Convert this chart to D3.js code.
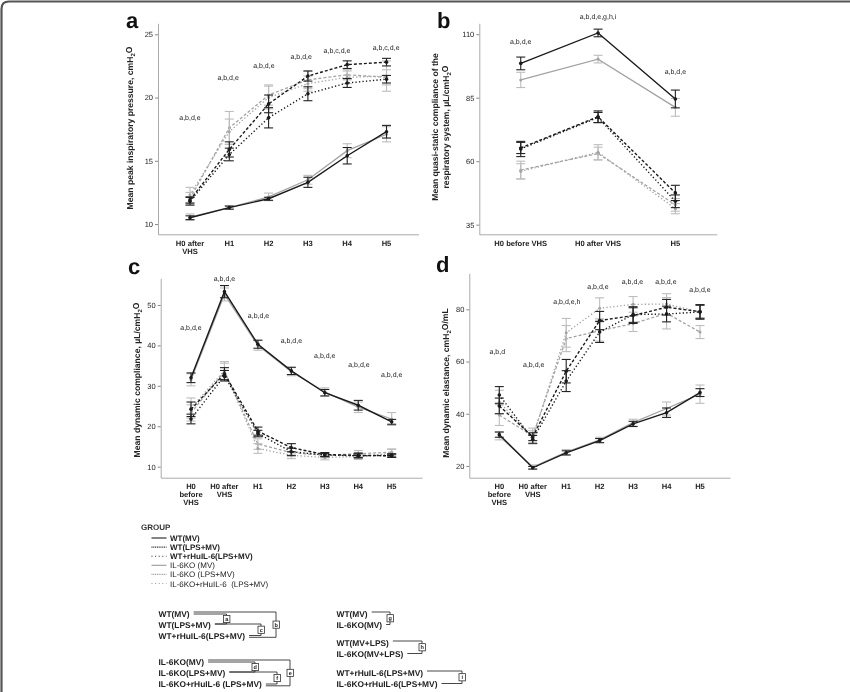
<!DOCTYPE html>
<html>
<head>
<meta charset="utf-8">
<script src="https://cdn.jsdelivr.net/npm/d3@7"></script>
<style>
body { margin: 0; background: #fff; }
svg { display: block; font-family: 'Liberation Sans', Arial, sans-serif; will-change: transform; text-rendering: geometricPrecision; }
</style>
</head>
<body>
<svg width="850" height="692"></svg>
<script>
'use strict'

// groups, in legend order
const groups = ['WT(MV)', 'WT(LPS+MV)', 'WT+rHuIL-6(LPS+MV)', 'IL-6KO (MV)', 'IL-6KO (LPS+MV)', 'IL-6KO+rHuIL-6  (LPS+MV)']

// panel a: peak inspiratory pressure
const catsA = ['H0 after\nVHS', 'H1', 'H2', 'H3', 'H4', 'H5']
const meanA = [
    [10.5, 11.3, 12.0, 13.3, 15.4, 17.3],
    [11.9, 15.9, 19.5, 21.7, 22.6, 22.8],
    [11.8, 15.5, 18.4, 20.3, 21.15, 21.45],
    [10.55, 11.3, 12.15, 13.5, 15.8, 17.1],
    [12.0, 17.6, 20.2, 21.4, 21.8, 21.6],
    [12.3, 17.3, 20.0, 21.1, 21.6, 21.7]
]
const errA = [
    [0.15, 0.12, 0.12, 0.4, 0.65, 0.5],
    [0.25, 0.6, 0.7, 0.4, 0.3, 0.3],
    [0.3, 0.5, 0.8, 0.55, 0.35, 0.3],
    [0.25, 0.15, 0.3, 0.35, 0.55, 0.6],
    [0.5, 1.3, 0.8, 0.7, 0.4, 0.6],
    [0.6, 1.0, 0.9, 0.6, 0.5, 1.2]
]
const notesA = ['a,b,d,e', 'a,b,d,e', 'a,b,d,e', 'a,b,d,e', 'a,b,c,d,e', 'a,b,c,d,e']
const noteAtA = [[0, 18.45], [0.97, 21.55], [1.88, 22.55], [2.83, 23.25], [3.74, 23.7], [4.99, 23.95]]
const ticksA = [10, 15, 20, 25]

// panel b: quasi-static compliance
const catsB = ['H0 before VHS', 'H0 after VHS', 'H5']
const meanB = [
    [98.5, 110.5, 84.5],
    [65.2, 77.5, 47.5],
    [64.8, 77.2, 44.2],
    [92.0, 100.2, 81.2],
    [56.5, 63.0, 42.8],
    [56.0, 63.5, 41.3]
]
const errB = [
    [2.5, 1.5, 3.5],
    [2.2, 2.3, 3.0],
    [3.0, 2.0, 2.5],
    [3.0, 1.5, 3.5],
    [3.5, 2.5, 2.5],
    [3.0, 3.0, 2.0]
]
const notesB = ['a,b,d,e', 'a,b,d,e,g,h,i', 'a,b,d,e']
const noteAtB = [[0, 107.1], [1, 116.9], [2, 95.3]]
const ticksB = [35, 60, 85, 110]

// panel c: dynamic compliance
const catsCD = ['H0\nbefore\nVHS', 'H0 after\nVHS', 'H1', 'H2', 'H3', 'H4', 'H5']
const meanC = [
    [32.0, 53.3, 40.3, 33.7, 28.3, 25.2, 21.1],
    [24.2, 33.0, 18.8, 14.7, 13.0, 12.8, 12.7],
    [21.8, 32.5, 18.2, 13.7, 12.9, 12.7, 12.8],
    [31.5, 52.6, 40.0, 33.5, 28.5, 24.7, 21.8],
    [23.3, 33.6, 15.6, 13.5, 12.8, 13.2, 13.6],
    [24.5, 33.8, 14.5, 12.8, 12.3, 12.5, 13.3]
]
const errC = [
    [1.2, 1.5, 1.0, 0.9, 0.8, 1.2, 0.6],
    [1.8, 1.5, 1.0, 1.0, 0.5, 0.6, 0.4],
    [1.2, 1.3, 0.8, 0.9, 0.4, 0.5, 0.4],
    [1.5, 1.6, 1.2, 1.0, 1.0, 1.3, 1.6],
    [2.0, 2.0, 1.3, 1.0, 0.6, 0.8, 0.8],
    [2.5, 2.2, 1.2, 0.8, 0.6, 0.7, 1.0]
]
const notesC = ['a,b,d,e', 'a,b,d,e', 'a,b,d,e', 'a,b,d,e', 'a,b,d,e', 'a,b,d,e', 'a,b,d,e']
const noteAtC = [[0, 44.5], [1, 56.6], [2.02, 47.35], [3, 41.3], [4, 37.6], [5.02, 35.2], [6, 32.9]]
const ticksC = [10, 20, 30, 40, 50]

// panel d: dynamic elastance
const meanD = [
    [32.0, 19.3, 25.0, 29.7, 36.1, 40.4, 48.1],
    [43.0, 31.2, 56.3, 75.7, 77.6, 80.8, 79.1],
    [47.2, 30.2, 52.5, 71.3, 78.0, 78.2, 79.0],
    [31.5, 19.6, 25.3, 30.0, 36.6, 42.0, 47.5],
    [39.5, 31.5, 68.8, 71.8, 74.5, 78.5, 71.3],
    [44.5, 31.0, 71.0, 80.4, 81.9, 82.0, 79.0]
]
const errD = [
    [1.0, 0.5, 0.8, 0.8, 1.0, 1.8, 1.5],
    [3.0, 1.5, 4.5, 3.5, 3.0, 3.0, 2.5],
    [3.2, 1.5, 4.0, 4.0, 3.0, 3.0, 2.8],
    [1.5, 0.8, 1.0, 1.0, 1.3, 2.5, 3.5],
    [4.0, 3.0, 5.0, 4.0, 3.0, 6.0, 2.5],
    [4.5, 2.5, 5.5, 4.0, 3.0, 4.0, 2.5]
]
const notesD = ['a,b,d', 'a,b,d,e', 'a,b,d,e,h', 'a,b,d,e', 'a,b,d,e', 'a,b,d,e', 'a,b,d,e']
const noteAtD = [[-0.06, 63.8], [1.03, 58.7], [2.02, 82.9], [2.95, 88.6], [3.98, 90.6], [4.98, 90.6], [6, 87.4]]
const ticksD = [20, 40, 60, 80]

// comparison brackets
const bracketLeft = [['WT(MV)', 'WT(LPS+MV)', 'WT+rHuIL-6(LPS+MV)'], ['IL-6KO(MV)', 'IL-6KO(LPS+MV)', 'IL-6KO+rHuIL-6 (LPS+MV)']]
const bracketRight = [['WT(MV)', 'IL-6KO(MV)'], ['WT(MV+LPS)', 'IL-6KO(MV+LPS)'], ['WT+rHuIL-6(LPS+MV)', 'IL-6KO+rHuIL-6(LPS+MV)']]

const svg = d3.select('svg')
const black = '#1a1a1a'
const gray = '#a3a3a3'
const lineColor = [black, black, black, gray, gray, gray]
const barColor = ['#222', '#222', '#222', '#bdbdbd', '#bdbdbd', '#bdbdbd']
const lineDash = [null, '3,2', '1.3,2.2', null, '3,2', '1.3,2.2']
const drawOrder = [3, 4, 5, 0, 1, 2]

// frame of the figure
svg.append('path')
    .attr('d', 'M1.5,692 V9 Q1.5,1.5 9,1.5 H850')
    .attr('fill', 'none')
    .attr('stroke', '#555')
    .attr('stroke-width', 2.2)

function subLabel(sel, parts) {
    parts.forEach(p => {
        if (p.sub) sel.append('tspan').attr('font-size', '0.7em').attr('dy', '0.3em').text(p.t)
        else sel.append('tspan').attr('dy', p.up ? '-0.3em' : null).text(p.t)
    })
}

function panel(cfg) {
    const n = cfg.cats.length
    const x = d3.scaleLinear().domain([-cfg.pad, n - 1 + cfg.pad]).range([cfg.x0, cfg.x1])
    const y = d3.scaleLinear().domain(cfg.yDom).range([cfg.yB, cfg.yT])
    const g = svg.append('g')

    const yAxis = g.append('g')
        .attr('transform', `translate(${cfg.x0},0)`)
        .call(d3.axisLeft(y).tickValues(cfg.ticks).tickSize(3).tickSizeOuter(0).tickPadding(2))
    yAxis.select('.domain').attr('stroke', '#aaa')
    yAxis.selectAll('.tick line').attr('stroke', '#888')
    yAxis.selectAll('.tick text')
        .attr('font-family', 'Liberation Sans, Arial, sans-serif')
        .attr('font-size', 7.5)
        .attr('fill', '#222')

    const xAxis = g.append('g')
        .attr('transform', `translate(0,${cfg.yB})`)
        .call(d3.axisBottom(x).tickValues([]).tickSizeOuter(0))
    xAxis.select('.domain').attr('stroke', '#aaa')

    cfg.cats.forEach((c, i) => {
        const t = g.append('text')
            .attr('x', x(i))
            .attr('y', cfg.yB + 11.5)
            .attr('text-anchor', 'middle')
            .attr('font-size', 7.6)
            .attr('font-weight', 'bold')
            .attr('fill', '#222')
        c.split('\n').forEach((line, k) => {
            t.append('tspan').attr('x', x(i)).attr('dy', k ? 7.8 : 0).text(line)
        })
    })

    // panel letter
    g.append('text')
        .attr('x', cfg.letterX)
        .attr('y', cfg.letterY)
        .attr('font-size', 22)
        .attr('font-weight', 'bold')
        .attr('fill', '#111')
        .text(cfg.letter)

    // axis title
    cfg.title.forEach((parts, k) => {
        const t = g.append('text')
            .attr('transform', `translate(${cfg.titleX + k * 11},${cfg.titleY}) rotate(-90)`)
            .attr('text-anchor', 'middle')
            .attr('font-size', 8.6)
            .attr('font-weight', 'bold')
            .attr('fill', '#222')
        subLabel(t, parts)
    })

    drawOrder.forEach(s => {
        const pts = cfg.mean[s].map((v, i) => [x(i), y(v)])
        g.append('path')
            .attr('d', d3.line()(pts))
            .attr('fill', 'none')
            .attr('stroke', lineColor[s])
            .attr('stroke-width', s < 3 ? 1.4 : 1.3)
            .attr('stroke-dasharray', lineDash[s])

        const bars = g.append('g')
            .attr('stroke', barColor[s])
            .attr('stroke-width', 1.1)
        cfg.mean[s].forEach((v, i) => {
            const e = cfg.err[s][i]
            const cx = x(i)
            bars.append('line').attr('x1', cx).attr('x2', cx).attr('y1', y(v - e)).attr('y2', y(v + e))
            bars.append('line').attr('x1', cx - 4.5).attr('x2', cx + 4.5).attr('y1', y(v - e)).attr('y2', y(v - e))
            bars.append('line').attr('x1', cx - 4.5).attr('x2', cx + 4.5).attr('y1', y(v + e)).attr('y2', y(v + e))
        })

        g.append('g')
            .selectAll('circle')
            .data(cfg.mean[s])
            .enter()
            .append('circle')
            .attr('cx', (d, i) => x(i))
            .attr('cy', d => y(d))
            .attr('r', s < 3 ? 1.8 : 1.5)
            .attr('fill', lineColor[s])
    })

    cfg.notes.forEach((t, i) => {
        g.append('text')
            .attr('x', x(cfg.noteAt[i][0]))
            .attr('y', y(cfg.noteAt[i][1]))
            .attr('dy', '0.35em')
            .attr('text-anchor', 'middle')
            .attr('font-size', 7)
            .attr('fill', '#222')
            .text(t)
    })
}

const cmH2O = [{ t: 'cmH' }, { t: '2', sub: true }, { t: 'O', up: true }]

panel({
    cats: catsA, mean: meanA, err: errA, notes: notesA, noteAt: noteAtA, ticks: ticksA,
    x0: 158, x1: 418.5, pad: 0.814, yDom: [9.19, 25.87], yB: 234.3, yT: 23.3,
    letter: 'a', letterX: 126, letterY: 28,
    title: [[{ t: 'Mean peak inspiratory pressure, ' }, ...cmH2O]], titleX: 133, titleY: 128
})

panel({
    cats: catsB, mean: meanB, err: errB, notes: notesB, noteAt: noteAtB, ticks: ticksB,
    x0: 479.3, x1: 716.8, pad: 0.536, yDom: [31.2, 114.3], yB: 234.3, yT: 23.3,
    letter: 'b', letterX: 437, letterY: 28,
    title: [[{ t: 'Mean quasi-static compliance of the' }], [{ t: 'respiratory system, µL/' }, ...cmH2O]],
    titleX: 438, titleY: 127
})

panel({
    cats: catsCD, mean: meanC, err: errC, notes: notesC, noteAt: noteAtC, ticks: ticksC,
    x0: 160.7, x1: 422, pad: 0.906, yDom: [7.28, 56.6], yB: 477.7, yT: 278.3,
    letter: 'c', letterX: 128, letterY: 274,
    title: [[{ t: 'Mean dynamic compliance, µL/' }, ...cmH2O]], titleX: 140, titleY: 380
})

panel({
    cats: catsCD, mean: meanD, err: errD, notes: notesD, noteAt: noteAtD, ticks: ticksD,
    x0: 469.3, x1: 730, pad: 0.897, yDom: [15.5, 93.8], yB: 477.7, yT: 273.3,
    letter: 'd', letterX: 436, letterY: 272,
    title: [[{ t: 'Mean dynamic elastance, ' }, ...cmH2O, { t: '/mL' }]], titleX: 449, titleY: 383
})

// legend
const legend = svg.append('g')
legend.append('text')
    .attr('x', 141)
    .attr('y', 530)
    .attr('font-size', 8)
    .attr('font-weight', 'bold')
    .attr('fill', '#333')
    .text('GROUP')
const legendDash = [null, '1,0.8', '1,2.6', null, '1,0.8', '1,2.6']
groups.forEach((name, i) => {
    const cy = 538 + i * 9.1
    legend.append('line')
        .attr('x1', 151.5).attr('x2', 166.5)
        .attr('y1', cy).attr('y2', cy)
        .attr('stroke', i < 3 ? '#222' : '#9a9a9a')
        .attr('stroke-width', 1.1)
        .attr('stroke-dasharray', legendDash[i])
    legend.append('text')
        .attr('x', 170)
        .attr('y', cy + 3)
        .attr('font-size', 8)
        .attr('font-weight', i < 3 ? 'bold' : 'normal')
        .attr('fill', '#222')
        .attr('xml:space', 'preserve')
        .style('white-space', 'pre')
        .text(name)
})

// brackets
const br = svg.append('g')
function rowText(x, cy, label) {
    const t = br.append('text')
        .attr('x', x)
        .attr('y', cy + 3)
        .attr('font-size', 8.4)
        .attr('font-weight', 'bold')
        .attr('fill', '#222')
        .text(label)
    return x + t.node().getComputedTextLength() + 4
}
function hline(x1, x2, yy) {
    br.append('line').attr('x1', x1).attr('x2', x2).attr('y1', yy).attr('y2', yy)
        .attr('stroke', '#333').attr('stroke-width', 0.9)
}
function bracket(ends, ya, yb, bx, letter) {
    hline(ends[0], bx, ya)
    hline(ends[1], bx, yb)
    br.append('line').attr('x1', bx).attr('x2', bx).attr('y1', ya).attr('y2', yb)
        .attr('stroke', '#333').attr('stroke-width', 0.9)
    const my = (ya + yb) / 2
    br.append('rect').attr('x', bx - 3).attr('y', my - 3.6).attr('width', 6.4).attr('height', 7.2)
        .attr('fill', '#fff').attr('stroke', '#333').attr('stroke-width', 0.8)
    br.append('text').attr('x', bx + 0.2).attr('y', my + 1.9).attr('text-anchor', 'middle')
        .attr('font-size', 5.5).attr('font-weight', 'bold').attr('fill', '#222').text(letter)
}

const leftRows = [[614, 625, 635.5], [662, 673, 684]]
const leftX = [[226.5, 261, 276], [255, 277, 290]]
const leftLetters = [['a', 'c', 'b'], ['d', 'f', 'e']]
bracketLeft.forEach((rows, gi) => {
    const cy = leftRows[gi]
    const ends = rows.map((r, k) => rowText(158.5, cy[k], r))
    const [bx1, bx2, bx3] = leftX[gi]
    const [l1, l2, l3] = leftLetters[gi]
    bracket([ends[0], ends[1]], cy[0], cy[1] - 1, bx1, l1)
    bracket([ends[1], ends[2]], cy[1] - 1, cy[2], bx2, l2)
    bracket([ends[0], ends[2]], cy[0] - 2, cy[2] + 1.8, bx3, l3)
})

const rightRows = [[614, 624.5], [643, 653.5], [673, 683.5]]
const rightX = [390, 422, 462]
const rightLetters = ['g', 'h', 'i']
bracketRight.forEach((rows, gi) => {
    const cy = rightRows[gi]
    const ends = rows.map((r, k) => rowText(336.5, cy[k], r))
    bracket(ends, cy[0] - 2, cy[1], rightX[gi], rightLetters[gi])
})
</script>
</body>
</html>
